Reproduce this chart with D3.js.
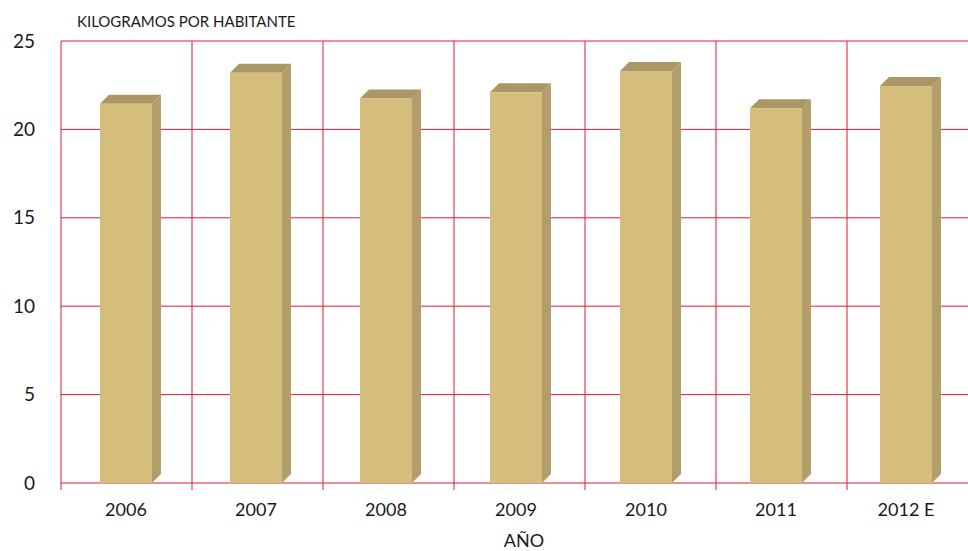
<!DOCTYPE html>
<html>
<head>
<meta charset="utf-8">
<script src="https://cdn.jsdelivr.net/npm/d3@7"></script>
<style>
  body { margin: 0; background: #fff; }
  text { font-family: "Lato", "DejaVu Sans", sans-serif; fill: #1a1a1a; }
</style>
</head>
<body>
<div id="chart"></div>
<script>
// data
const years = ['2006', '2007', '2008', '2009', '2010', '2011', '2012 E'];
const kilos = [21.45, 23.2, 21.75, 22.1, 23.3, 21.2, 22.45];
const yTicks = [0, 5, 10, 15, 20, 25];

const W = 968, H = 551;
const margin = { top: 41, right: -10, bottom: 68, left: 61 };
const width = W - margin.left - margin.right;
const height = H - margin.top - margin.bottom;
const depth = 9;

const svg = d3.select('#chart').append('svg')
  .attr('width', W)
  .attr('height', H);

const g = svg.append('g')
  .attr('transform', `translate(${margin.left},${margin.top})`);

// grid bands and bar slots (bars sit on a slightly tighter pitch than the grid)
const x = d3.scaleBand().domain(years).range([0, width]);
const xBar = d3.scaleBand().domain(years).range([0, 910]);
const y = d3.scaleLinear().domain([0, 25]).range([height, 0]);

const gridColor = '#e01a30';

// horizontal grid
g.selectAll('.hgrid')
  .data(yTicks)
  .enter().append('line')
  .attr('x1', 0).attr('x2', width)
  .attr('y1', d => y(d)).attr('y2', d => y(d))
  .attr('stroke', gridColor)
  .attr('stroke-width', 1);

// vertical grid (band boundaries), extending a little below the baseline
g.selectAll('.vgrid')
  .data(years)
  .enter().append('line')
  .attr('x1', d => x(d)).attr('x2', d => x(d))
  .attr('y1', 0).attr('y2', height + 7)
  .attr('stroke', gridColor)
  .attr('stroke-width', 1);

// 3D bars
const bw = 52;
const off = 39;
const bars = g.selectAll('.bar')
  .data(years.map((yr, i) => ({ yr, v: kilos[i] })))
  .enter().append('g');

// side face
bars.append('path')
  .attr('fill', '#b29e6b')
  .attr('d', d => {
    const x0 = xBar(d.yr) + off + bw, yt = y(d.v), yb = y(0);
    return `M${x0},${yt} L${x0 + depth},${yt - depth} L${x0 + depth},${yb - depth} L${x0},${yb} Z`;
  });

// top face
bars.append('path')
  .attr('fill', '#ab9765')
  .attr('d', d => {
    const x0 = xBar(d.yr) + off, yt = y(d.v);
    return `M${x0},${yt} L${x0 + depth},${yt - depth} L${x0 + bw + depth},${yt - depth} L${x0 + bw},${yt} Z`;
  });

// front face
bars.append('rect')
  .attr('fill', '#d5bd7c')
  .attr('x', d => xBar(d.yr) + off)
  .attr('y', d => y(d.v))
  .attr('width', bw)
  .attr('height', d => y(0) - y(d.v));

// y labels
g.selectAll('.ylab')
  .data(yTicks)
  .enter().append('text')
  .attr('x', -26)
  .attr('y', d => y(d))
  .attr('dy', '0.35em')
  .attr('text-anchor', 'end')
  .style('font-size', '19px')
  .text(d => d);

// x labels
g.selectAll('.xlab')
  .data(years)
  .enter().append('text')
  .attr('x', d => xBar(d) + off + bw / 2)
  .attr('y', height + 33)
  .attr('text-anchor', 'middle')
  .style('font-size', '18px')
  .text(d => d);

// axis titles
svg.append('text')
  .attr('x', 77)
  .attr('y', 27)
  .style('font-size', '15px')
  .text('KILOGRAMOS POR HABITANTE');

svg.append('text')
  .attr('x', 524)
  .attr('y', 547)
  .attr('text-anchor', 'middle')
  .style('font-size', '18px')
  .text('AÑO');
</script>
</body>
</html>
